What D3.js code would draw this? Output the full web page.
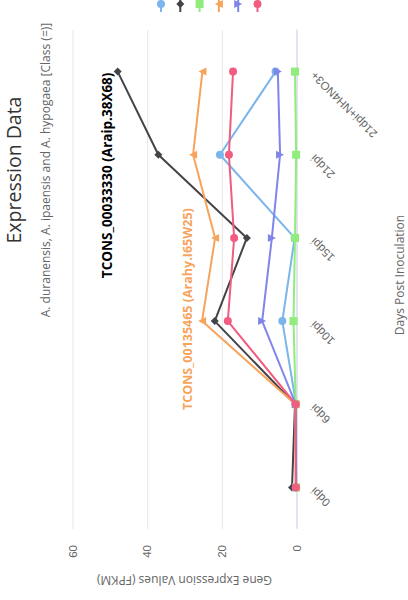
<!DOCTYPE html>
<html>
<head>
<meta charset="utf-8">
<script src="https://cdn.jsdelivr.net/npm/d3@7"></script>
<style>
body { margin: 0; background: #fff; }
svg { display: block; font-family: "Open Sans", sans-serif; }
</style>
</head>
<body>
<div id="grafico"></div>
<script>
// Datos
const categorias = ["0dpi", "6dpi", "10dpi", "15dpi", "21dpi", "21dpi+NH4NO3+"];
const marcasY = [0, 20, 40, 60];

const serieAzul = [0.1, 0.1, 3.8, 0.5, 20.5, 5.6];
const serieNegra = [1.2, 0.4, 21.9, 13.3, 37.0, 47.9];
const serieVerde = [0.1, 0.2, 0.8, 0.4, 0.1, 0.4];
const serieNaranja = [0.2, 0.3, 25.3, 21.8, 27.7, 25.2];
const serieMorada = [0.1, 0.2, 9.2, 6.6, 4.4, 5.0];
const serieRosa = [0.2, 0.2, 18.4, 16.7, 18.1, 17.0];

const etiquetaNegra = "TCONS_00033330 (Araip.38X68)";
const etiquetaNaranja = "TCONS_00135465 (Arahy.I65W25)";

const series = [
    { valores: serieAzul, color: "#7cb5ec", simbolo: "circle" },
    { valores: serieNegra, color: "#434348", simbolo: "diamond" },
    { valores: serieVerde, color: "#90ed7d", simbolo: "square" },
    { valores: serieNaranja, color: "#f7a35c", simbolo: "triangle" },
    { valores: serieMorada, color: "#8085e9", simbolo: "triangle-down" },
    { valores: serieRosa, color: "#f15c80", simbolo: "circle" }
];

const width = 408, height = 600;
// el grafico se dibuja apaisado y luego se gira
const plot = { left: 71, right: 570, top: 72.5, bottom: 296.5 };

const svg = d3.select("#grafico").append("svg")
    .attr("width", width)
    .attr("height", height);

const g = svg.append("g")
    .attr("transform", `translate(0, ${height}) rotate(-90)`);

// Escalas
const x = d3.scaleBand().domain(categorias).range([plot.left, plot.right]);
const y = d3.scaleLinear().domain([0, 60]).range([plot.bottom, plot.top]);
const cx = c => x(c) + x.bandwidth() / 2;

// Simbolos al estilo de highcharts
function simbolo(tipo, r) {
    if (tipo === "circle") return d3.symbol(d3.symbolCircle, Math.PI * r * r)();
    if (tipo === "square") return `M${-r},${-r}h${2 * r}v${2 * r}h${-2 * r}Z`;
    if (tipo === "diamond") return `M0,${-r}L${r},0L0,${r}L${-r},0Z`;
    if (tipo === "triangle") return `M0,${-r}L${r},${r}L${-r},${r}Z`;
    return `M${-r},${-r}L${r},${-r}L0,${r}Z`;
}

// Titulos
g.append("text")
    .attr("x", 430).attr("y", 21)
    .attr("text-anchor", "middle")
    .attr("fill", "#333333")
    .style("font-size", "19.5px")
    .text("Expression Data");

g.append("text")
    .attr("x", 430).attr("y", 50)
    .attr("text-anchor", "middle")
    .attr("fill", "#666666")
    .style("font-size", "12px")
    .text("A. duranensis, A. ipaensis and A. hypogaea [Class (=)]");

// Eje Y con rejilla
const ejeY = g.append("g")
    .attr("transform", `translate(${plot.left}, 0)`)
    .call(d3.axisLeft(y).tickValues(marcasY).tickSize(-(plot.right - plot.left)).tickPadding(16));
ejeY.select(".domain").remove();
ejeY.selectAll("line").attr("stroke", "#e6e6e6");
ejeY.selectAll("text").attr("fill", "#666666").style("font-size", "11.5px");

g.append("text")
    .attr("transform", `translate(24, ${(plot.top + plot.bottom) / 2}) rotate(-90)`)
    .attr("text-anchor", "middle")
    .attr("fill", "#666666")
    .style("font-size", "12px")
    .text("Gene Expression Values (FPKM)");

// Eje X
const ejeX = g.append("g")
    .attr("transform", `translate(0, ${plot.bottom})`)
    .call(d3.axisBottom(x).tickSize(0));
ejeX.select(".domain").attr("stroke", "#ccd6eb");
ejeX.selectAll("text")
    .attr("y", 0).attr("dy", 0)
    .attr("transform", "translate(1, 19) rotate(-45)")
    .style("text-anchor", "end")
    .style("font-size", "11.5px")
    .attr("fill", "#666666");

g.append("text")
    .attr("x", 325).attr("y", 404)
    .attr("text-anchor", "middle")
    .attr("fill", "#666666")
    .style("font-size", "12px")
    .text("Days Post Inoculation");

// Series
const linea = d3.line().x(d => cx(d.c)).y(d => y(d.v));

series.forEach(s => {
    const puntos = categorias.map((c, i) => ({ c: c, v: s.valores[i] }));
    const grupo = g.append("g");
    grupo.append("path")
        .attr("d", linea(puntos))
        .attr("fill", "none")
        .attr("stroke", s.color)
        .attr("stroke-width", 2)
        .attr("stroke-linejoin", "round");
    grupo.selectAll("path.punto")
        .data(puntos)
        .join("path")
        .attr("class", "punto")
        .attr("transform", d => `translate(${cx(d.c)}, ${y(d.v)})`)
        .attr("d", simbolo(s.simbolo, 4))
        .attr("fill", s.color);
});

// Etiquetas de las series
g.append("text")
    .attr("x", cx(categorias[5]) - 1).attr("y", y(serieNegra[5]) - 6)
    .attr("text-anchor", "end")
    .attr("fill", "#000000")
    .style("font-size", "13.5px")
    .style("font-weight", "bold")
    .text(etiquetaNegra);

g.append("text")
    .attr("x", 190).attr("y", 192)
    .attr("fill", "#f7a35c")
    .style("font-size", "12.5px")
    .style("font-weight", "bold")
    .text(etiquetaNaranja);

// Leyenda (solo se ven los simbolos)
series.forEach((s, i) => {
    const item = g.append("g").attr("transform", `translate(588, ${161 + i * 19.3})`);
    item.append("line")
        .attr("x1", 0).attr("x2", 16)
        .attr("stroke", s.color).attr("stroke-width", 2);
    item.append("path")
        .attr("transform", "translate(8, 0)")
        .attr("d", simbolo(s.simbolo, 4))
        .attr("fill", s.color);
});
</script>
</body>
</html>
